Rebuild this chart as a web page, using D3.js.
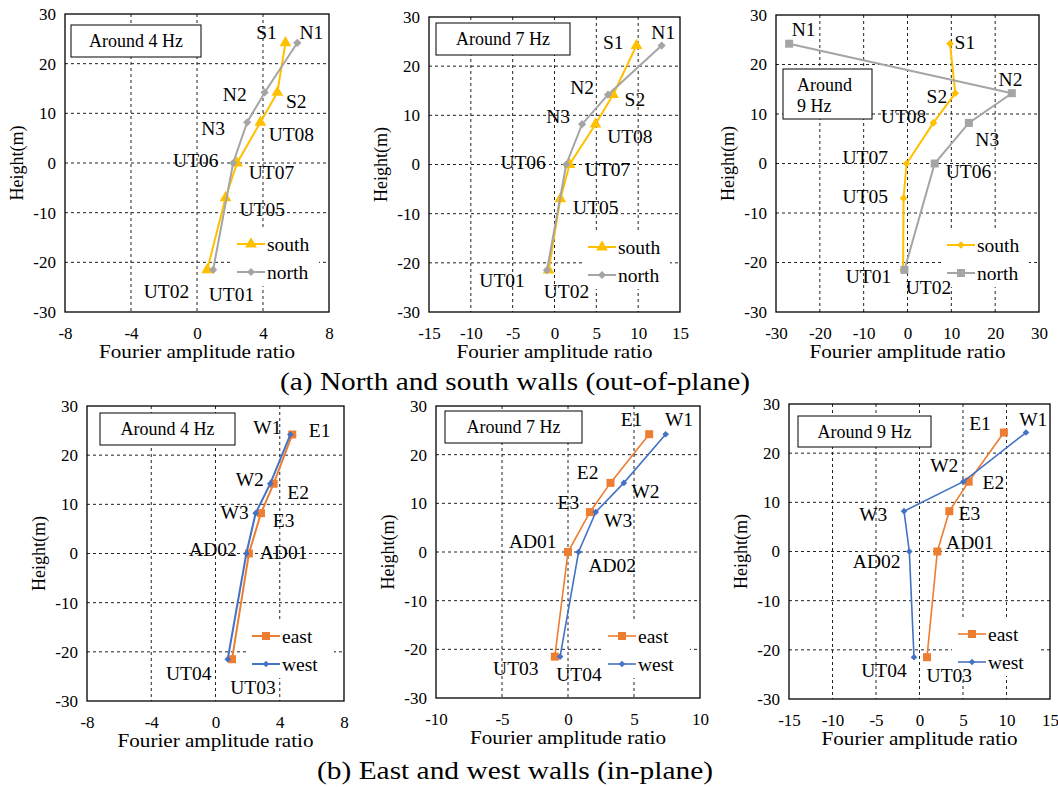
<!DOCTYPE html>
<html>
<head>
<meta charset="utf-8">
<script src="https://cdn.jsdelivr.net/npm/d3@7"></script>
<style>
body { margin: 0; background: #fff; }
text { font-family: "Liberation Serif", "Times New Roman", serif; fill: #000; }
</style>
</head>
<body>
<div id="container"></div>
<script>
// data -- heights (m) of the sensors, top row has UT05 on the south wall
const southHeights = [24.2, 14.2, 8.2, 0, -7, -21.5]
const wallHeights = [24.2, 14.2, 8.2, 0, -21.5]

const southNames = ["S1", "S2", "UT08", "UT07", "UT05", "UT02"]
const northNames = ["N1", "N2", "N3", "UT06", "UT01"]
const eastNames = ["E1", "E2", "E3", "AD01", "UT03"]
const westNames = ["W1", "W2", "W3", "AD02", "UT04"]

// fourier amplitude ratios
const south4 = [5.36, 4.87, 3.84, 2.43, 1.73, 0.62]
const north4 = [6.08, 4.1, 3.04, 2.19, 0.98]
const south7 = [9.8, 7.0, 4.9, 1.8, 0.7, -0.7]
const north7 = [12.8, 6.4, 3.3, 1.4, -0.9]
const south9 = [9.7, 10.9, 5.9, -0.2, -0.9, -1.0]
const north9 = [-27.0, 23.8, 14.0, 6.2, -0.7]

const east4 = [4.78, 3.62, 2.83, 2.08, 1.03]
const west4 = [4.66, 3.41, 2.5, 1.92, 0.76]
const east7 = [6.15, 3.22, 1.66, 0.0, -1.0]
const west7 = [7.4, 4.23, 2.1, 0.8, -0.6]
const east9 = [9.7, 5.65, 3.43, 2.05, 0.86]
const west9 = [12.24, 5.04, -1.78, -1.17, -0.63]

// tick labels
const yTicks = [-30, -20, -10, 0, 10, 20, 30]
const xTicks4 = [-8, -4, 0, 4, 8]
const xTicks15 = [-15, -10, -5, 0, 5, 10, 15]
const xTicks30 = [-30, -20, -10, 0, 10, 20, 30]
const xTicks10 = [-10, -5, 0, 5, 10]

const captionA = "(a) North and south walls (out-of-plane)"
const captionB = "(b) East and west walls (in-plane)"

// colours
const cSouth = "#FFC000", cNorth = "#A5A5A5", cEast = "#ED7D31", cWest = "#4472C4"

// panels (layout + which series go where)
const panels = [
  { box: [65, 14, 329, 312], ticks: xTicks4, note: ["Around 4 Hz"], noteBox: [71, 25, 130, 32],
    series: [
      { key: "south", vals: south4, h: southHeights, names: southNames, color: cSouth, shape: "triangle", size: 60, lw: 2 },
      { key: "north", vals: north4, h: wallHeights, names: northNames, color: cNorth, shape: "diamond", size: 34, lw: 2 }],
    labels: { S1: [4.21, 26.2], N1: [6.93, 26.2], N2: [2.29, 13.8], S2: [6.02, 12.4], N3: [0.98, 7.0], UT08: [5.72, 5.7],
      UT06: [-0.07, 0.5], UT07: [4.51, -1.9], UT05: [3.95, -9.3], UT02: [-1.85, -25.8], UT01: [2.09, -26.5] } },
  { box: [429, 17, 680, 312], ticks: xTicks15, note: ["Around 7 Hz"], noteBox: [436, 23, 134, 32],
    series: [
      { key: "south", vals: south7, h: southHeights, names: southNames, color: cSouth, shape: "triangle", size: 60, lw: 2 },
      { key: "north", vals: north7, h: wallHeights, names: northNames, color: cNorth, shape: "diamond", size: 34, lw: 2 }],
    labels: { S1: [7.02, 24.8], N1: [13.0, 26.9], N2: [3.31, 15.7], S2: [9.61, 13.3], N3: [0.44, 9.8], UT08: [9.01, 5.7],
      UT06: [-3.75, 0.4], UT07: [6.34, -1.0], UT05: [4.94, -8.7], UT01: [-6.26, -23.5], UT02: [1.43, -25.8] } },
  { box: [776, 15, 1039, 312], ticks: xTicks30, note: ["Around", "9 Hz"], noteBox: [783, 69, 89, 50],
    series: [
      { key: "south", vals: south9, h: southHeights, names: southNames, color: cSouth, shape: "diamond", size: 30, lw: 2 },
      { key: "north", vals: north9, h: wallHeights, names: northNames, color: cNorth, shape: "square", size: 64, lw: 2 }],
    labels: { N1: [-23.7, 27.0], S1: [13.1, 24.4], N2: [23.5, 17.0], S2: [6.7, 13.5], UT08: [-0.9, 9.4], N3: [18.2, 4.8],
      UT07: [-9.65, 1.3], UT06: [13.9, -1.7], UT05: [-9.65, -6.7], UT01: [-8.9, -22.9], UT02: [4.8, -25.0] } },
  { box: [87, 406, 344, 701], ticks: xTicks4, note: ["Around 4 Hz"], noteBox: [100, 413, 135, 32],
    series: [
      { key: "east", vals: east4, h: wallHeights, names: eastNames, color: cEast, shape: "square", size: 64, lw: 2 },
      { key: "west", vals: west4, h: wallHeights, names: westNames, color: cWest, shape: "diamond", size: 22, lw: 2 }],
    labels: { W1: [3.23, 25.7], E1: [6.48, 25.1], W2: [2.13, 15.1], E2: [5.14, 12.5], W3: [1.19, 8.4], E3: [4.24, 6.7],
      AD02: [-0.16, 0.8], AD01: [4.24, 0.2], UT04: [-1.67, -24.4], UT03: [2.33, -27.2] } },
  { box: [436, 406, 700, 698], ticks: xTicks10, note: ["Around 7 Hz"], noteBox: [445, 411, 137, 32],
    series: [
      { key: "east", vals: east7, h: wallHeights, names: eastNames, color: cEast, shape: "square", size: 64, lw: 1.6 },
      { key: "west", vals: west7, h: wallHeights, names: westNames, color: cWest, shape: "diamond", size: 22, lw: 1.6 }],
    labels: { E1: [4.81, 27.2], W1: [8.41, 27.2], E2: [1.49, 16.3], W2: [5.87, 12.5], E3: [0.03, 10.2], W3: [3.8, 6.4],
      AD01: [-2.67, 2.2], AD02: [3.35, -2.7], UT03: [-3.95, -23.9], UT04: [0.83, -25.2] } },
  { box: [789, 404, 1050, 699], ticks: xTicks15, note: ["Around 9 Hz"], noteBox: [798, 416, 133, 31],
    series: [
      { key: "east", vals: east9, h: wallHeights, names: eastNames, color: cEast, shape: "square", size: 64, lw: 1.6 },
      { key: "west", vals: west9, h: wallHeights, names: westNames, color: cWest, shape: "diamond", size: 22, lw: 1.6 }],
    labels: { E1: [6.95, 26.1], W1: [13.08, 26.8], W2: [2.85, 17.5], E2: [8.49, 14.1], W3: [-5.31, 7.5], E3: [5.73, 7.8],
      AD01: [5.8, 1.8], AD02: [-4.92, -2.0], UT04: [-4.08, -24.2], UT03: [3.43, -25.2] } }
]

// elements

const svg = d3.select("#container")
  .append("svg")
  .attr("width", 1058)
  .attr("height", 787)

svg.append("rect").attr("width", 1058).attr("height", 787).attr("fill", "#fff")

const marker = (shape, size) => {
  if (shape === "triangle") return { d: d3.symbol(d3.symbolTriangle, size)(), rot: 0 }
  if (shape === "diamond") return { d: d3.symbol(d3.symbolSquare, size)(), rot: 45 }
  return { d: d3.symbol(d3.symbolSquare, size)(), rot: 0 }
}

panels.forEach(p => {
  const [L, T, R, B] = p.box
  const x = d3.scaleLinear().domain(d3.extent(p.ticks)).range([L, R])
  const y = d3.scaleLinear().domain([-30, 30]).range([B, T])
  const g = svg.append("g")

  // gridlines
  g.selectAll(".vgrid")
    .data(p.ticks.slice(1, -1))
    .join("line")
    .attr("x1", d => x(d)).attr("x2", d => x(d))
    .attr("y1", T).attr("y2", B)
    .attr("stroke", "#222").attr("stroke-width", 1).attr("stroke-dasharray", "3,3")

  g.selectAll(".hgrid")
    .data(yTicks.slice(1, -1))
    .join("line")
    .attr("y1", d => y(d)).attr("y2", d => y(d))
    .attr("x1", L).attr("x2", R)
    .attr("stroke", "#222").attr("stroke-width", 1).attr("stroke-dasharray", "3,3")

  // axes (labels only)
  const yAxis = g.append("g")
    .attr("transform", `translate(${L},0)`)
    .call(d3.axisLeft(y).tickValues(yTicks).tickSize(0).tickPadding(9).tickFormat(d => String(d)))
  const xAxis = g.append("g")
    .attr("transform", `translate(0,${B})`)
    .call(d3.axisBottom(x).tickValues(p.ticks).tickSize(0).tickPadding(15).tickFormat(d => String(d)))
  ;[yAxis, xAxis].forEach(a => {
    a.select(".domain").remove()
    a.attr("font-size", 17).attr("font-family", null)
  })

  g.append("text")
    .attr("transform", `translate(${L - 48},${(T + B) / 2}) rotate(-90)`)
    .attr("text-anchor", "middle")
    .attr("dominant-baseline", "central")
    .attr("font-size", 18)
    .text("Height(m)")

  g.append("text")
    .attr("x", (L + R) / 2).attr("y", B + 46)
    .attr("text-anchor", "middle")
    .attr("font-size", 18)
    .attr("textLength", 196).attr("lengthAdjust", "spacingAndGlyphs")
    .text("Fourier amplitude ratio")

  // note box
  const [nx, ny, nw, nh] = p.noteBox
  g.append("rect")
    .attr("x", nx).attr("y", ny).attr("width", nw).attr("height", nh)
    .attr("fill", "#fff").attr("stroke", "#000").attr("stroke-width", 1)
  g.selectAll(".note")
    .data(p.note)
    .join("text")
    .attr("x", p.note.length > 1 ? nx + 14 : nx + nw / 2)
    .attr("y", (d, i) => p.note.length > 1 ? ny + 16 + i * 21 : ny + nh / 2)
    .attr("text-anchor", p.note.length > 1 ? "start" : "middle")
    .attr("dominant-baseline", "central")
    .attr("font-size", 18)
    .text(d => d)

  // legend background
  const lx = R - 92, ly = T + 230
  g.append("rect")
    .attr("x", lx - 6).attr("y", ly - 16).attr("width", 88).attr("height", 58)
    .attr("fill", "#fff")

  // series
  p.series.forEach(s => {
    const pts = s.vals.map((v, i) => ({ v, h: s.h[i], name: s.names[i] }))
    const m = marker(s.shape, s.size)

    g.append("path")
      .datum(pts)
      .attr("d", d3.line().x(d => x(d.v)).y(d => y(d.h)))
      .attr("fill", "none")
      .attr("stroke", s.color)
      .attr("stroke-width", s.lw)

    g.selectAll(null)
      .data(pts)
      .join("path")
      .attr("d", m.d)
      .attr("transform", d => `translate(${x(d.v)},${y(d.h)}) rotate(${m.rot})`)
      .attr("fill", s.color)

    g.selectAll(null)
      .data(pts)
      .join("text")
      .attr("x", d => x(p.labels[d.name][0]))
      .attr("y", d => y(p.labels[d.name][1]))
      .attr("text-anchor", "middle")
      .attr("dominant-baseline", "central")
      .attr("font-size", 19.5)
      .text(d => d.name)
  })

  // legend
  p.series.forEach((s, i) => {
    const m = marker(s.shape, s.size)
    const yy = ly + i * 28
    g.append("line")
      .attr("x1", lx).attr("x2", lx + 28).attr("y1", yy).attr("y2", yy)
      .attr("stroke", s.color).attr("stroke-width", s.lw)
    g.append("path")
      .attr("d", m.d)
      .attr("transform", `translate(${lx + 14},${yy}) rotate(${m.rot})`)
      .attr("fill", s.color)
    g.append("text")
      .attr("x", lx + 30).attr("y", yy)
      .attr("dominant-baseline", "central")
      .attr("font-size", 19.5)
      .text(s.key)
  })

  // frame
  g.append("rect")
    .attr("x", L).attr("y", T).attr("width", R - L).attr("height", B - T)
    .attr("fill", "none").attr("stroke", "#000").attr("stroke-width", 1.3)
})

// captions
svg.append("text")
  .attr("x", 515).attr("y", 390)
  .attr("text-anchor", "middle").attr("font-size", 25)
  .attr("textLength", 470).attr("lengthAdjust", "spacingAndGlyphs")
  .text(captionA)

svg.append("text")
  .attr("x", 515).attr("y", 779)
  .attr("text-anchor", "middle").attr("font-size", 25)
  .attr("textLength", 396).attr("lengthAdjust", "spacingAndGlyphs")
  .text(captionB)
</script>
</body>
</html>
